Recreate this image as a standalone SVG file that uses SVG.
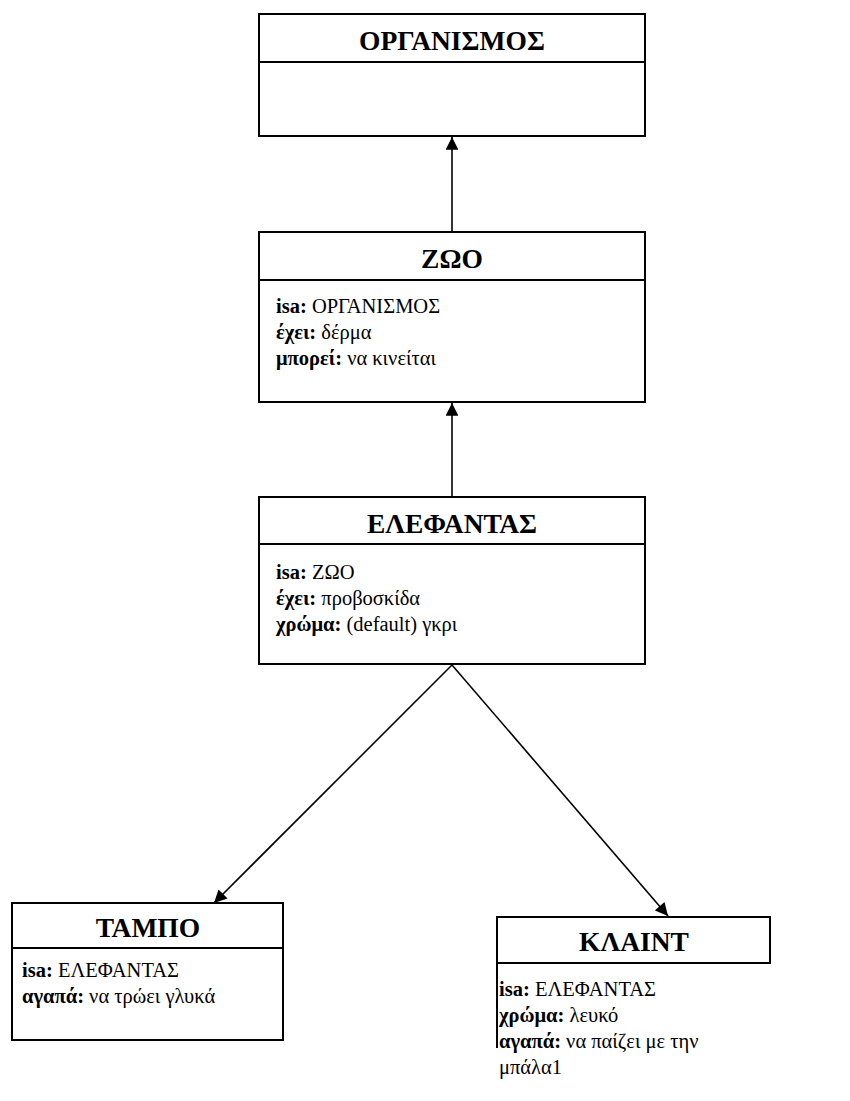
<svg xmlns="http://www.w3.org/2000/svg" width="850" height="1101" viewBox="0 0 850 1101">
  <style>
    .box { fill: #fff; stroke: #000; stroke-width: 2; }
    .rule { stroke: #000; stroke-width: 2; fill: none; }
    .title { font-family: "Liberation Serif", "Times New Roman", serif; font-weight: bold; font-size: 27.5px; text-anchor: middle; fill: #000; }
    .body { font-family: "Liberation Serif", "Times New Roman", serif; font-size: 20.5px; fill: #000; }
    .body .k { font-weight: bold; }
    .link { stroke: #000; stroke-width: 1.6; fill: none; marker-end: url(#head); }
  </style>
  <defs>
    <marker id="head" viewBox="0 0 10 10" refX="10" refY="5" markerWidth="9" markerHeight="8" markerUnits="strokeWidth" orient="auto">
      <path d="M0,0 L10,5 L0,10 z" fill="#000"/>
    </marker>
  </defs>
  <rect width="850" height="1101" fill="#fff"/>

  <g id="connectors">
    <line class="link" x1="452" y1="232" x2="452" y2="137"/>
    <line class="link" x1="452" y1="497" x2="452" y2="403"/>
    <line class="link" x1="452" y1="665" x2="214" y2="903"/>
    <line class="link" x1="452" y1="665" x2="668" y2="916"/>
  </g>

  <g id="organismos">
    <rect class="box" x="259" y="14" width="386" height="122"/>
    <line class="rule" x1="259" y1="62" x2="645" y2="62"/>
    <text class="title" x="452" y="50">ΟΡΓΑΝΙΣΜΟΣ</text>
  </g>

  <g id="zoo">
    <rect class="box" x="259" y="232" width="386" height="170"/>
    <line class="rule" x1="259" y1="280" x2="645" y2="280"/>
    <text class="title" x="452" y="268">ΖΩΟ</text>
    <text class="body" x="276" y="313"><tspan class="k">isa:</tspan> ΟΡΓΑΝΙΣΜΟΣ</text>
    <text class="body" x="276" y="339"><tspan class="k">έχει:</tspan> δέρμα</text>
    <text class="body" x="276" y="365"><tspan class="k">μπορεί:</tspan> να κινείται</text>
  </g>

  <g id="elefantas">
    <rect class="box" x="259" y="497" width="386" height="167"/>
    <line class="rule" x1="259" y1="544" x2="645" y2="544"/>
    <text class="title" x="452" y="533">ΕΛΕΦΑΝΤΑΣ</text>
    <text class="body" x="276" y="579"><tspan class="k">isa:</tspan> ΖΩΟ</text>
    <text class="body" x="276" y="605"><tspan class="k">έχει:</tspan> προβοσκίδα</text>
    <text class="body" x="276" y="631"><tspan class="k">χρώμα:</tspan> (default) γκρι</text>
  </g>

  <g id="tampo">
    <rect class="box" x="12" y="903" width="271" height="137"/>
    <line class="rule" x1="12" y1="948" x2="283" y2="948"/>
    <text class="title" x="148" y="937">ΤΑΜΠΟ</text>
    <text class="body" x="22" y="977"><tspan class="k">isa:</tspan> ΕΛΕΦΑΝΤΑΣ</text>
    <text class="body" x="22" y="1003"><tspan class="k">αγαπά:</tspan> να τρώει γλυκά</text>
  </g>

  <g id="klaint">
    <rect class="box" x="497" y="917" width="273" height="46"/>
    <line class="rule" x1="497" y1="963" x2="497" y2="1048"/>
    <text class="title" x="634" y="951">ΚΛΑΙΝΤ</text>
    <text class="body" x="499" y="996"><tspan class="k">isa:</tspan> ΕΛΕΦΑΝΤΑΣ</text>
    <text class="body" x="499" y="1022"><tspan class="k">χρώμα:</tspan> λευκό</text>
    <text class="body" x="499" y="1048"><tspan class="k">αγαπά:</tspan> να παίζει με την</text>
    <text class="body" x="499" y="1074">μπάλα1</text>
  </g>
</svg>
